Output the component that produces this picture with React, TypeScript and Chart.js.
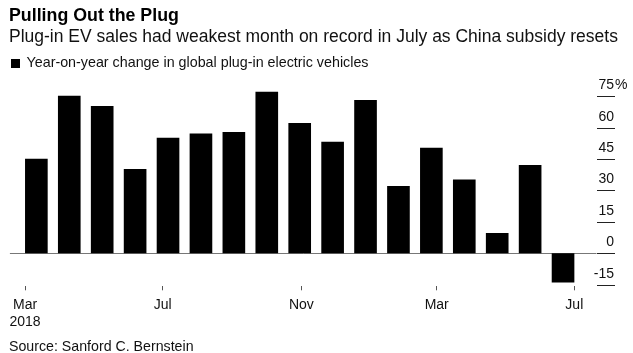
import React, { useEffect, useRef } from 'react';
import { Chart, registerables } from 'chart.js';

Chart.register(...registerables);

const FONT = '"Liberation Sans", Arial, Helvetica, sans-serif';

// ---- data ----
const months = [
  'Mar 2018', 'Apr 2018', 'May 2018', 'Jun 2018', 'Jul 2018', 'Aug 2018', 'Sep 2018', 'Oct 2018',
  'Nov 2018', 'Dec 2018', 'Jan 2019', 'Feb 2019', 'Mar 2019', 'Apr 2019', 'May 2019', 'Jun 2019', 'Jul 2019',
];
const yoyChange = [45.1, 75.2, 70.4, 40.3, 55.2, 57.2, 57.9, 77.2, 62.2, 53.3, 73.2, 32.1, 50.4, 35.2, 9.7, 42.2, -14.0];
const yTickValues = [-15, 0, 15, 30, 45, 60, 75];
const xTickDays = [0, 122, 245, 365, 487]; // days since 1 Mar 2018
const xTickLabels: (string | string[])[] = [['Mar', '2018'], 'Jul', 'Nov', 'Mar', 'Jul'];

const title = 'Pulling Out the Plug';
const subtitle = 'Plug-in EV sales had weakest month on record in July as China subsidy resets';
const legendLabel = 'Year-on-year change in global plug-in electric vehicles';
const source = 'Source: Sanford C. Bernstein';

const rightAxisPlugin = {
  id: 'rightAxis',
  beforeDatasetsDraw(chart: any) {
    const ys = chart.scales.y;
    const { ctx, chartArea } = chart;
    const yz = Math.round(ys.getPixelForValue(0)) + 0.5;
    ctx.save();
    ctx.strokeStyle = '#777';
    ctx.lineWidth = 1;
    ctx.beginPath();
    ctx.moveTo(chartArea.left - 10, yz);
    ctx.lineTo(chartArea.right + 17, yz);
    ctx.stroke();
    ctx.restore();
  },
  afterDatasetsDraw(chart: any) {
    const ys = chart.scales.y;
    const { ctx, chartArea } = chart;
    const x0 = chartArea.right + 17.5;
    const x1 = chartArea.right + 35.5;
    ctx.save();
    ctx.strokeStyle = '#222';
    ctx.lineWidth = 1;
    ctx.font = `14px ${FONT}`;
    ctx.fillStyle = '#111';
    ctx.textBaseline = 'alphabetic';
    const ticks = ys.ticks;
    ticks.forEach((t: any, i: number) => {
      const py = Math.round(ys.getPixelForValue(t.value)) + 0.5;
      ctx.beginPath();
      ctx.moveTo(x0, py);
      ctx.lineTo(x1, py);
      ctx.stroke();
      ctx.textAlign = 'right';
      ctx.fillText(String(t.value), x1 - 1, py - 8);
      if (i === ticks.length - 1) {
        ctx.textAlign = 'left';
        ctx.fillText('%', x1, py - 8);
      }
    });
    ctx.restore();
  },
};

export default function App() {
  const ref = useRef<HTMLCanvasElement | null>(null);

  useEffect(() => {
    if (!ref.current) return;
    const chart = new Chart(ref.current, {
      type: 'bar',
      data: {
        labels: months,
        datasets: [
          {
            label: legendLabel,
            data: yoyChange,
            backgroundColor: '#000',
            borderWidth: 0,
            barPercentage: 0.688,
            categoryPercentage: 1,
          },
        ],
      },
      options: {
        animation: false,
        responsive: false,
        devicePixelRatio: 1,
        layout: { padding: { left: 19.9, right: 53.5, top: 85.8, bottom: 15.7 } },
        plugins: {
          legend: { display: false },
          tooltip: { enabled: false },
          title: { display: false },
        },
        scales: {
          x: { type: 'category', display: false, offset: true },
          x2: {
            type: 'linear',
            position: 'bottom',
            offset: false,
            min: -4.6,
            max: 491.6,
            afterBuildTicks: (scale: any) => {
              scale.ticks = xTickDays.map((v) => ({ value: v }));
            },
            grid: {
              offset: false,
              drawOnChartArea: false,
              drawTicks: true,
              tickLength: 4,
              color: '#555',
            },
            border: { display: false },
            ticks: {
              autoSkip: false,
              maxRotation: 0,
              padding: 6,
              color: '#111',
              font: { family: FONT, size: 14, lineHeight: 1.25 },
              callback: (value: any) => {
                const idx = xTickDays.indexOf(Number(value));
                return idx >= 0 ? xTickLabels[idx] : '';
              },
            },
          },
          y: {
            type: 'linear',
            display: false,
            min: -15.8,
            max: 80,
            afterBuildTicks: (scale: any) => {
              scale.ticks = yTickValues.map((v) => ({ value: v }));
            },
          },
        },
      },
      plugins: [rightAxisPlugin],
    } as any);
    return () => chart.destroy();
  }, []);

  const base: React.CSSProperties = {
    position: 'absolute',
    whiteSpace: 'nowrap',
    lineHeight: 1,
    fontFamily: FONT,
    color: '#111',
    margin: 0,
  };

  return (
    <div style={{ position: 'fixed', left: 0, top: 0, width: 633, height: 353, background: '#fff', overflow: 'hidden' }}>
      <canvas ref={ref} width={633} height={353} style={{ position: 'absolute', left: 0, top: 0, width: 633, height: 353 }} />
      <div style={{ ...base, left: 9, top: 6.9, fontSize: 17.8, fontWeight: 'bold', color: '#000' }}>{title}</div>
      <div style={{ ...base, left: 9, top: 27.5, fontSize: 17.5 }}>{subtitle}</div>
      <div style={{ ...base, left: 11, top: 58.5, width: 9, height: 9, background: '#000' }} />
      <div style={{ ...base, left: 26.5, top: 54.6, fontSize: 14.3 }}>{legendLabel}</div>
      <div style={{ ...base, left: 9, top: 339, fontSize: 14.2 }}>{source}</div>
    </div>
  );
}
